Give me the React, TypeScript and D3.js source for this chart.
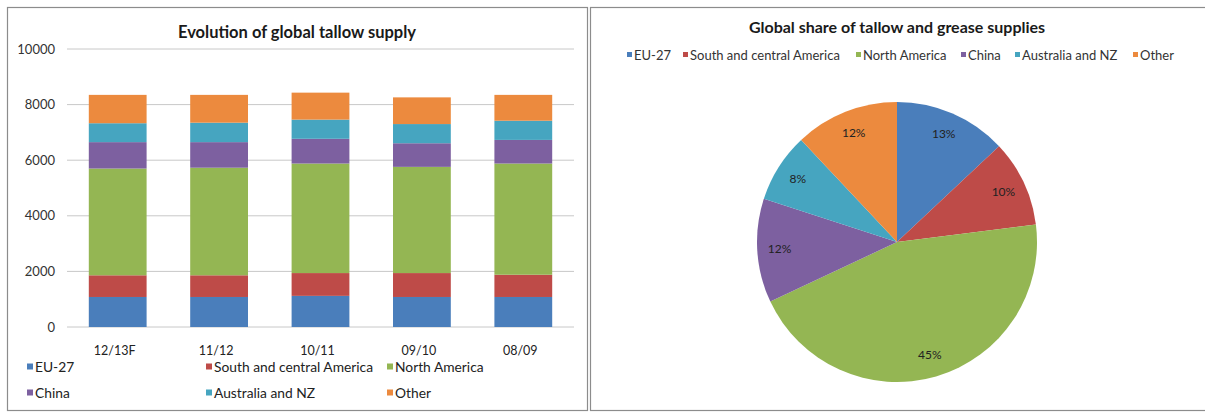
import React from "react";
import * as d3 from "d3";

const categories = ["12/13F", "11/12", "10/11", "09/10", "08/09"];
const seriesNames = ["EU-27", "South and central America", "North America", "China", "Australia and NZ", "Other"];
const euValues = [1080, 1080, 1120, 1080, 1080];
const southValues = [780, 780, 820, 860, 800];
const northValues = [3840, 3870, 3940, 3820, 4000];
const chinaValues = [950, 920, 890, 850, 850];
const ausValues = [680, 700, 690, 690, 690];
const otherValues = [1020, 1000, 970, 960, 930];
const yTicks = [0, 2000, 4000, 6000, 8000, 10000];
const pieShares = [13, 10, 45, 12, 8, 12];
const colors = ["#4a7ebb", "#be4b48", "#94b653", "#7d60a0", "#46a5c0", "#ec8a3e"];

const FONT = "Lato, 'Open Sans', sans-serif";

export default function App() {
  const seriesValues = [euValues, southValues, northValues, chinaValues, ausValues, otherValues];
  const rows = categories.map((c, i) => {
    const r: any = { cat: c };
    seriesNames.forEach((s, j) => (r[s] = seriesValues[j][i]));
    return r;
  });
  const stacked = d3.stack().keys(seriesNames)(rows);

  const plotL = 67, plotR = 574, plotT = 49, plotB = 327;
  const x = d3.scaleBand().domain(categories).range([plotL, plotR]).paddingInner(0.43).paddingOuter(0.215);
  const y = d3.scaleLinear().domain([0, 10000]).range([plotB, plotT]);

  const pieCx = 897, pieCy = 242, R = 140;
  const pie = d3.pie<number>().sort(null).value((d) => d)(pieShares);
  const arc = d3.arc<any>().innerRadius(0).outerRadius(R);
  const labelArc = d3.arc<any>().innerRadius(R * 0.84).outerRadius(R * 0.84);

  const leftLegend = [
    { x: 27, y: 372 }, { x: 206, y: 372 }, { x: 387, y: 372 },
    { x: 27, y: 398 }, { x: 206, y: 398 }, { x: 387, y: 398 },
  ];
  const rightLegendX = [627, 683, 856, 961, 1015, 1133];

  return (
    <svg width={1205} height={413} style={{ position: "absolute", left: 0, top: 0, background: "#fff" }} fontFamily={FONT}>
      <rect x={0} y={0} width={1205} height={413} fill="#fff" />
      {/* panel borders */}
      <rect x={7.5} y={7.5} width={580} height={403} fill="none" stroke="#8c8c8c" strokeWidth={1.2} />
      <rect x={590.5} y={7.5} width={616} height={403} fill="none" stroke="#8c8c8c" strokeWidth={1.2} />

      {/* Left chart */}
      <text x={297} y={38} textAnchor="middle" fontSize={16.5} fontWeight="bold" fill="#1a1a1a">Evolution of global tallow supply</text>
      {yTicks.map((t) => (
        <g key={t}>
          <line x1={plotL} x2={plotR} y1={y(t)} y2={y(t)} stroke="#c8c8c8" strokeWidth={1} />
          <text x={55} y={y(t) + 4.5} textAnchor="end" fontSize={13} fill="#333">{t}</text>
        </g>
      ))}
      {stacked.map((s, j) => (
        <g key={s.key} fill={colors[j]}>
          {s.map((d, i) => (
            <rect key={i} x={x(categories[i])} width={x.bandwidth()} y={y(d[1])} height={y(d[0]) - y(d[1])} />
          ))}
        </g>
      ))}
      {categories.map((c) => (
        <text key={c} x={(x(c) as number) + x.bandwidth() / 2 - 3} y={355} textAnchor="middle" fontSize={12.5} fill="#222">{c}</text>
      ))}
      {seriesNames.map((s, j) => (
        <g key={s}>
          <rect x={leftLegend[j].x} y={leftLegend[j].y - 8.5} width={6} height={6} fill={colors[j]} />
          <text x={leftLegend[j].x + 8} y={leftLegend[j].y} fontSize={13.8} fill="#222">{s}</text>
        </g>
      ))}

      {/* Right chart */}
      <text x={897} y={33} textAnchor="middle" fontSize={16} fontWeight="bold" fill="#1a1a1a">Global share of tallow and grease supplies</text>
      {seriesNames.map((s, j) => (
        <g key={s}>
          <rect x={rightLegendX[j]} y={52} width={5} height={5} fill={colors[j]} />
          <text x={rightLegendX[j] + 7} y={60} fontSize={13} fill="#333">{s}</text>
        </g>
      ))}
      <g transform={`translate(${pieCx},${pieCy})`}>
        {pie.map((p, j) => (
          <path key={j} d={arc(p) as string} fill={colors[j]} />
        ))}
        {pie.map((p, j) => {
          const [lx, ly] = labelArc.centroid(p);
          return (
            <text key={j} x={lx} y={ly + 4} textAnchor="middle" fontSize={12} fill="#222">{pieShares[j]}%</text>
          );
        })}
      </g>
    </svg>
  );
}
